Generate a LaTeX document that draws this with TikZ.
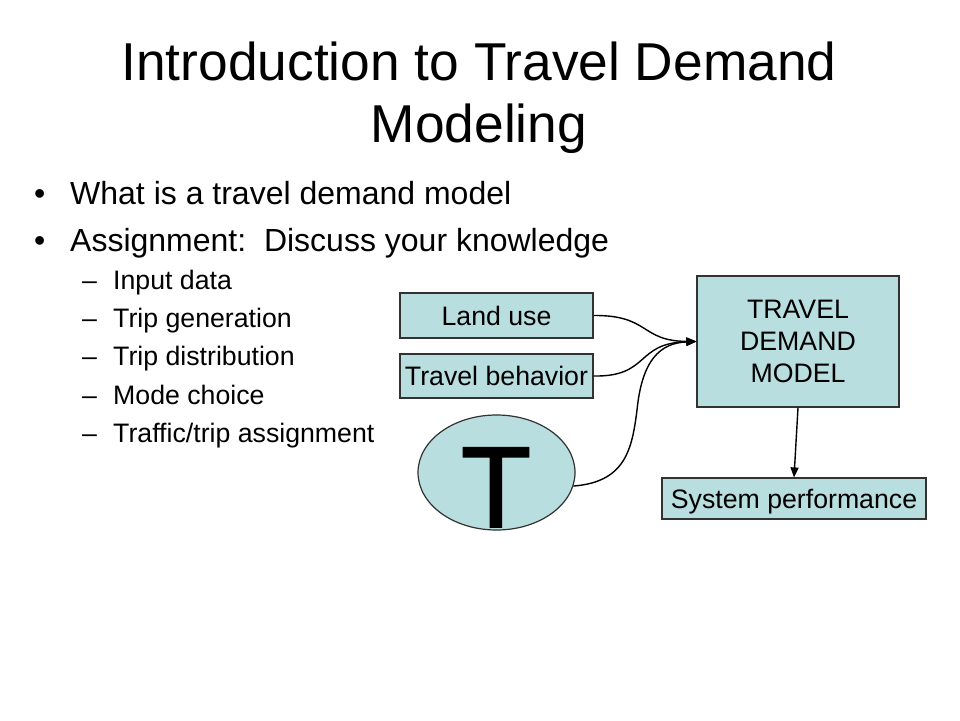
\documentclass[tikz,border=0pt]{standalone}
\usepackage{fontspec}
\setmainfont{Liberation Sans}
\newfontfamily\tfont[FakeBold=1.6]{Liberation Sans}
\usetikzlibrary{arrows.meta,shapes.geometric}
\definecolor{boxfill}{RGB}{185,222,224}
\definecolor{boxline}{RGB}{50,50,50}
\begin{document}
\begin{tikzpicture}[x=1pt,y=-1pt,
  titletext/.style={anchor=base,inner sep=0pt,font=\fontsize{53.3}{63}\selectfont},
  bullettext/.style={anchor=base west,inner sep=0pt,font=\fontsize{32}{38}\selectfont},
  subtext/.style={anchor=base west,inner sep=0pt,font=\fontsize{26.7}{32}\selectfont},
  box/.style={draw=boxline,line width=1.2pt,fill=boxfill,inner sep=0pt,font=\fontsize{26.7}{32}\selectfont},
  conn/.style={line width=1.4pt,-{Triangle[length=10pt,width=8pt]}}]
\fill[white] (0,0) rectangle (960,720);
\useasboundingbox (0,0) rectangle (960,720);
% title
\node[titletext] (title1) at (479,80) {Introduction to Travel Demand};
\node[titletext] (title2) at (479,142) {Modeling};
% bullets
\node[bullettext] (b1dot) at (34,204) {•};
\node[bullettext] (b1) at (70,204) {What is a travel demand model};
\node[bullettext] (b2dot) at (34,251) {•};
\node[bullettext] (b2) at (70,251) {Assignment:\ \ Discuss your knowledge};
% sub bullets
\node[subtext] (s1dash) at (82,289) {–};
\node[subtext] (s1) at (113,289) {Input data};
\node[subtext] (s2dash) at (82,327) {–};
\node[subtext] (s2) at (113,327) {Trip generation};
\node[subtext] (s3dash) at (82,365) {–};
\node[subtext] (s3) at (113,365) {Trip distribution};
\node[subtext] (s4dash) at (82,404) {–};
\node[subtext] (s4) at (113,404) {Mode choice};
\node[subtext] (s5dash) at (82,442) {–};
\node[subtext] (s5) at (113,442) {Traffic/trip assignment};
% boxes
\node[box,minimum width=193,minimum height=45] (landuse) at (496.5,315.5) {Land use};
\node[box,minimum width=193,minimum height=44] (travel) at (496.5,376) {Travel behavior};
\node[box,minimum width=202,minimum height=131,align=center] (tdm) at (798,341.5) {TRAVEL\\DEMAND\\MODEL};
\node[box,minimum width=264,minimum height=41,text height=19,text depth=0] (sysperf) at (794,498.5) {System performance};
\node[box,ellipse,minimum width=157,minimum height=115] (tcirc) at (496.5,472.5) {};
\node[anchor=base,inner sep=0pt,font=\tfont\fontsize{115}{115}\selectfont] (tletter) at (496,527) {T};
% connectors
\draw[conn] (landuse.east) .. controls (650,315) and (640,341) .. (tdm.west);
\draw[conn] (travel.east) .. controls (650,377) and (635,343) .. (tdm.west);
\draw[conn] (tcirc.-10) .. controls (625,482) and (632,450) .. (637,410)
  .. controls (642,360) and (660,343) .. (tdm.west);
\draw[conn] (tdm.south) -- (sysperf.north);
\end{tikzpicture}
\end{document}
